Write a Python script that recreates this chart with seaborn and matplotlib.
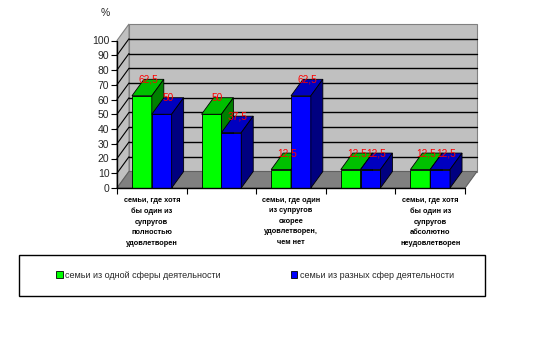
import matplotlib
matplotlib.use("Agg")
import matplotlib.pyplot as plt
import seaborn as sns
import pandas as pd
from matplotlib.patches import Polygon, Rectangle, Patch

# ---- data ----
groups = [0, 1, 2, 3, 4]
tick_labels = [
    "семьи, где хотя\nбы один из\nсупругов\nполностью\nудовлетворен",
    "",
    "семьи, где один\nиз супругов\nскорее\nудовлетворен,\nчем нет",
    "",
    "семьи, где хотя\nбы один из\nсупругов\nабсолютно\nнеудовлетворен",
]
series = ["семьи из одной сферы деятельности", "семьи из разных сфер деятельности"]
same_sphere = [62.5, 50, 12.5, 12.5, 12.5]
diff_sphere = [50, 37.5, 62.5, 12.5, 12.5]
y_ticks = [0, 10, 20, 30, 40, 50, 60, 70, 80, 90, 100]

front_cols = ["#00ff00", "#0000ff"]
top_cols = ["#00c000", "#0000c0"]
side_cols = ["#008000", "#000080"]

df = pd.DataFrame({
    "group": groups * 2,
    "value": same_sphere + diff_sphere,
    "series": [series[0]] * 5 + [series[1]] * 5,
})

sns.set_theme(style="white")
plt.rcParams["font.family"] = ["Liberation Sans", "DejaVu Sans"]

fig = plt.figure(figsize=(5.53, 3.57), dpi=100)
L, R, B, T = 117, 465, 188, 40.5
ax = fig.add_axes([L / 553, 1 - B / 357, (R - L) / 553, (B - T) / 357])

sns.barplot(data=df, x="group", y="value", hue="series", hue_order=series,
            palette=front_cols, saturation=1, width=0.57, edgecolor="black", linewidth=0.6,
            legend=False, ax=ax, zorder=3)
ax.set_xlim(-0.5, 4.5)
ax.set_ylim(0, 100)
ax.set_xlabel("")
ax.set_ylabel("")
ax.set_facecolor("none")
for s in ax.spines.values():
    s.set_visible(False)

# depth offset in data units
dx = 12.0 / ((R - L) / 5)
dy = 16.5 / ((B - T) / 100)

x0, x1 = -0.5, 4.5
# back wall
ax.add_patch(Polygon([(x0 + dx, dy), (x1 + dx, dy), (x1 + dx, 100 + dy), (x0 + dx, 100 + dy)],
                     closed=True, fc="#c0c0c0", ec="#808080", lw=0.8, zorder=0, clip_on=False))
# side wall
ax.add_patch(Polygon([(x0, 0), (x0, 100), (x0 + dx, 100 + dy), (x0 + dx, dy)],
                     closed=True, fc="#c0c0c0", ec="#808080", lw=0.8, zorder=0, clip_on=False))
# floor
ax.add_patch(Polygon([(x0, 0), (x1, 0), (x1 + dx, dy), (x0 + dx, dy)],
                     closed=True, fc="#808080", ec="#606060", lw=0.8, zorder=0.5, clip_on=False))
for v in y_ticks[1:-1]:
    ax.plot([x0 + dx, x1 + dx], [v + dy, v + dy], color="black", lw=1.0, zorder=0.6, clip_on=False)
    ax.plot([x0, x0 + dx], [v, v + dy], color="black", lw=0.8, zorder=0.6, clip_on=False)

# axis lines
ax.plot([x0, x0], [0, 100], color="black", lw=1.0, zorder=5, clip_on=False)
ax.plot([x0, x1], [0, 0], color="black", lw=1.0, zorder=5, clip_on=False)

# 3D faces and labels
bars = [p for p in ax.patches if isinstance(p, Rectangle) and p.get_height() > 0 and p.get_zorder() == 3]
for p in bars:
    fc = p.get_facecolor()
    k = 0 if fc[1] > 0.5 else 1
    xa = p.get_x()
    xb = xa + p.get_width()
    h = p.get_height()
    z = 3 + k
    p.set_zorder(z)
    ax.add_patch(Polygon([(xa, h), (xb, h), (xb + dx, h + dy), (xa + dx, h + dy)], closed=True,
                         fc=top_cols[k], ec="black", lw=0.6, zorder=z, clip_on=False))
    ax.add_patch(Polygon([(xb, 0), (xb, h), (xb + dx, h + dy), (xb + dx, dy)], closed=True,
                         fc=side_cols[k], ec="black", lw=0.6, zorder=z, clip_on=False))
    ax.text(xa + p.get_width() / 2 + dx / 2, h + dy, f"{h:g}".replace(".", ","),
            color="#ff0000", fontsize=7.3, ha="center", va="center", zorder=10, clip_on=False)

# ticks
ax.set_yticks(y_ticks)
ax.set_yticklabels([str(v) for v in y_ticks], fontsize=7.5)
ax.tick_params(axis="y", left=True, length=4, width=0.8, color="black", pad=1.5, direction="out")
ax.set_xticks([-0.5, 0.5, 1.5, 2.5, 3.5, 4.5])
ax.set_xticklabels([])
ax.tick_params(axis="x", bottom=True, length=4, width=0.8, color="black", direction="out")
for g, lab in zip(groups, tick_labels):
    if lab:
        ax.text(g, -6, lab, fontsize=5.3, fontweight="bold", ha="center", va="top",
                linespacing=1.7, color="black", clip_on=False)

fig.text(105 / 553, 1 - 13 / 357, "%", fontsize=7.5, ha="center", va="center")

# legend
fig.add_artist(Rectangle((19 / 553, 1 - 296 / 357), 466 / 553, 41 / 357,
                         transform=fig.transFigure, fill=False, ec="black", lw=1.0))
handles = [Patch(fc=front_cols[i], ec="black", lw=0.6, label=series[i]) for i in range(2)]
fig.legend(handles=handles, loc="center left", bbox_to_anchor=(56 / 553, 1 - 275 / 357),
           ncol=2, frameon=False, fontsize=6.5, handlelength=0.75, handleheight=0.75,
           handletextpad=0.3, columnspacing=7.7, borderpad=0, borderaxespad=0)

fig.savefig("out.png", dpi=100, facecolor="white")
